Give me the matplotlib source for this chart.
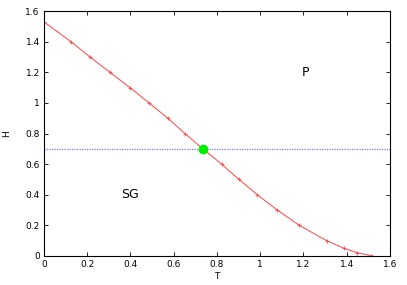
import numpy as np
import matplotlib
matplotlib.use("Agg")
import matplotlib.pyplot as plt

# phase boundary
T = [0.0, 0.125, 0.213, 0.305, 0.398, 0.486, 0.573, 0.652, 0.735, 0.822, 0.902,
     0.987, 1.079, 1.181, 1.307, 1.387, 1.446, 1.518]
H = [1.53, 1.4, 1.3, 1.2, 1.1, 1.0, 0.9, 0.8, 0.7, 0.6, 0.5,
     0.4, 0.3, 0.2, 0.1, 0.05, 0.022, 0.0]
H_line = 0.7
T_cross, H_cross = 0.735, 0.7


def main():
    fig = plt.figure(figsize=(4.07, 2.85), dpi=100)
    ax = fig.add_axes([0.108, 0.102, 0.85, 0.859])

    ax.axhline(H_line, color="#7878ff", lw=0.9, ls=(0, (1, 1)))
    ax.plot(T, H, color="#ff4444", lw=0.7, marker="+", ms=3, mew=0.6)
    ax.plot([T_cross], [H_cross], "o", color="#00ee00", ms=6)

    ax.text(1.208, 1.2, "P", fontsize=9, ha="center", va="center")
    ax.text(0.398, 0.4, "SG", fontsize=9, ha="center", va="center")

    ax.set_xlim(0, 1.6)
    ax.set_ylim(0, 1.6)
    ax.set_xticks(np.arange(0, 1.61, 0.2))
    ax.set_yticks(np.arange(0, 1.61, 0.2))
    ax.set_xticklabels(["0", "0.2", "0.4", "0.6", "0.8", "1", "1.2", "1.4", "1.6"])
    ax.set_yticklabels(["0", "0.2", "0.4", "0.6", "0.8", "1", "1.2", "1.4", "1.6"])
    ax.tick_params(direction="in", top=True, right=True, labelsize=6.5,
                   length=3, width=0.6, pad=3)
    for s in ax.spines.values():
        s.set_linewidth(0.8)

    ax.set_xlabel("T", fontsize=6.5, labelpad=2)
    ax.set_ylabel("H", fontsize=6.5, labelpad=10)

    fig.savefig("out.png", dpi=100)


if __name__ == '__main__':
    main()
